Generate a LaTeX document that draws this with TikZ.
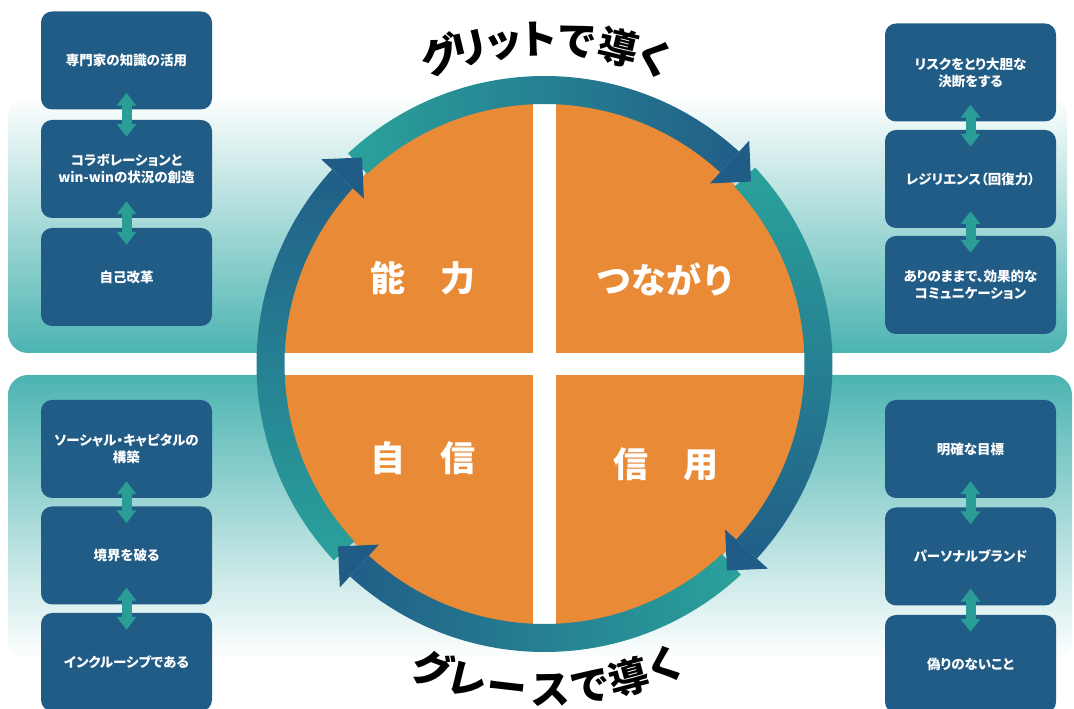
\documentclass[tikz,border=0pt]{standalone}
\usepackage{fontspec}
\newfontfamily\jp{Noto Sans CJK JP}[RawFeature=+palt]
\newfontfamily\jpfix{Noto Sans CJK JP}
\usetikzlibrary{arrows.meta}
\definecolor{boxblue}{RGB}{33,92,134}
\definecolor{arrteal}{RGB}{42,157,150}
\definecolor{bandteal}{RGB}{76,180,177}
\definecolor{qorange}{RGB}{232,138,54}
\definecolor{ringteal}{RGB}{42,162,155}
\definecolor{ringdark}{RGB}{33,94,136}
\tikzset{
  box/.style={draw=none, fill=boxblue, rounded corners=11pt, minimum width=171pt, minimum height=98pt, inner sep=0pt, text=white, align=center, font=\jp\bfseries\fontsize{13.5}{17}\selectfont},
  dbl/.style={draw=arrteal, line width=10pt, {Triangle[width=19pt,length=13pt]}-{Triangle[width=19pt,length=13pt]}},
  quad/.style={text=white, font=\jpfix\bfseries\fontsize{35}{40}\selectfont, inner sep=0pt},
  headtxt/.style={font=\jpfix\bfseries\fontsize{40}{44}\selectfont, inner sep=0pt, anchor=base, text=black},
  ringhead/.style={fill=boxblue},
}
\begin{document}
\begin{tikzpicture}[x=1pt,y=1pt]
\useasboundingbox (0,0) rectangle (1074,709);
% background bands
\shade[top color=white, bottom color=bandteal, rounded corners=20pt] (8,614) rectangle (1067,356);
\shade[top color=bandteal, bottom color=white, rounded corners=20pt] (8,334) rectangle (1072,50);

% boxes left top
\node[box] (L1) at (126.5,648.5) {専門家の知識の活用};
\node[box] (L2) at (126.5,540) {コラボレーションと\\win-winの状況の創造};
\node[box] (L3) at (126.5,432) {自己改革};
% right top
\node[box] (R1) at (970.5,636.5) {リスクをとり大胆な\\決断をする};
\node[box] (R2) at (970.5,530) {レジリエンス（回復力）};
\node[box] (R3) at (970.5,424) {ありのままで、効果的な\\コミュニケーション};
% bottom left
\node[box] (BL1) at (126.5,260) {ソーシャル・キャピタルの\\構築};
\node[box] (BL2) at (126.5,153.5) {境界を破る};
\node[box] (BL3) at (126.5,47) {インクルーシブである};
% bottom right
\node[box] (BR1) at (970.5,260) {明確な目標};
\node[box] (BR2) at (970.5,152.5) {パーソナルブランド};
\node[box] (BR3) at (970.5,45) {偽りのないこと};

% double arrows
\draw[dbl] ([yshift=17pt]L1.south) -- ([yshift=-17pt]L2.north);
\draw[dbl] ([yshift=17pt]L2.south) -- ([yshift=-17pt]L3.north);
\draw[dbl] ([yshift=17pt]R1.south) -- ([yshift=-17pt]R2.north);
\draw[dbl] ([yshift=17pt]R2.south) -- ([yshift=-17pt]R3.north);
\draw[dbl] ([yshift=17pt]BL1.south) -- ([yshift=-17pt]BL2.north);
\draw[dbl] ([yshift=17pt]BL2.south) -- ([yshift=-17pt]BL3.north);
\draw[dbl] ([yshift=17pt]BR1.south) -- ([yshift=-17pt]BR2.north);
\draw[dbl] ([yshift=17pt]BR2.south) -- ([yshift=-17pt]BR3.north);

% central circle
\begin{scope}[shift={(544.5,345)}]
\fill[qorange] (0,0) circle (261);
\fill[white] (-11.5,-262) rectangle (11.5,262);
\fill[white] (-262,-11) rectangle (262,11);
% ring shafts
\shade[left color=ringteal, right color=ringdark]
  (133:288) arc[start angle=133, end angle=47.5, radius=288] -- (47.5:260) arc[start angle=47.5, end angle=133, radius=260] -- cycle;
\shade[top color=ringteal, bottom color=ringdark]
  (43:288) arc[start angle=43, end angle=-42.5, radius=288] -- (-42.5:260) arc[start angle=-42.5, end angle=43, radius=260] -- cycle;
\shade[right color=ringteal, left color=ringdark]
  (-47:288) arc[start angle=-47, end angle=-132.5, radius=288] -- (-132.5:260) arc[start angle=-132.5, end angle=-47, radius=260] -- cycle;
\shade[bottom color=ringteal, top color=ringdark]
  (223:288) arc[start angle=223, end angle=137.5, radius=288] -- (137.5:260) arc[start angle=137.5, end angle=223, radius=260] -- cycle;
% ring heads
\foreach \b in {47.5,-42.5,-132.5,137.5}{
  \fill[ringhead, rotate=\b] (245,0) -- (303,0) -- (274,-29) -- cycle;
}
% quadrant labels
\node[quad] (q1) at (-121.5,86) {能　力};
\node[quad] (q2) at (121.5,85) {つながり};
\node[quad] (q3) at (-121.5,-94.5) {自　信};
\node[quad] (q4) at (121.5,-100) {信　用};
% top heading
\node[headtxt, rotate=18.7] (t1) at (108.7:310) {グ};
\node[headtxt, rotate=13.4] (t2) at (103.4:310) {リ};
\node[headtxt, rotate=7.0] (t3) at (97.2:310) {ッ};
\node[headtxt, rotate=1.5] (t4) at (91.2:310) {ト};
\node[headtxt, rotate=-5.8] (t5) at (84.2:310) {で};
\node[headtxt, rotate=-13.4] (t6) at (76.8:310) {導};
\node[headtxt, rotate=-19.9] (t7) at (70.1:310) {く};
% bottom heading
\node[headtxt, rotate=-20.2] (u1) at (249.8:340) {グ};
\node[headtxt, rotate=-13.7] (u2) at (256.3:340) {レ};
\node[headtxt, rotate=-6.6] (u3) at (263.4:340) {ー};
\node[headtxt, rotate=1.0] (u4) at (271.0:340) {ス};
\node[headtxt, rotate=8.1] (u5) at (278.1:340) {で};
\node[headtxt, rotate=15.0] (u6) at (285.0:340) {導};
\node[headtxt, rotate=21.9] (u7) at (291.9:340) {く};
\end{scope}
\end{tikzpicture}
\end{document}
